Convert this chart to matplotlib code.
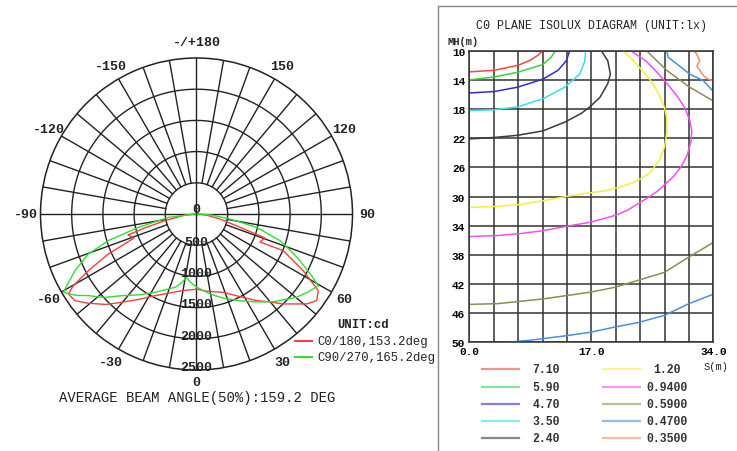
'''
Photometric report: polar intensity curve and C0 plane isolux diagram
'''

# Imports
import numpy as np
import matplotlib.pyplot as plt

plt.rcParams['font.family'] = ['Liberation Mono', 'DejaVu Sans Mono']

# Polar data (angle in deg, intensity in cd)
c0_angles = [-90, -84, -78, -75, -73, -69, -67, -65.6, -62.3, -59.8, -58, -54.5, -50.5, -45, -40.3,
             -34, -26.9, -19, -10.9, 0, 8, 18.9, 27, 34.8, 40, 44, 50.8, 54.2, 57.8, 62, 67.1, 66.2,
             70.7, 73, 78, 84, 90]
c0_cd = [30, 200, 516, 850, 1148, 1073, 1300, 1552, 1957, 2284, 2421, 2392, 2248, 2050, 1855,
         1650, 1468, 1340, 1252, 1205, 1250, 1327, 1480, 1691, 1840, 2004, 2280, 2375, 2307, 1938, 1510, 1112,
         1163, 729, 385, 150, 30]

c90_angles = [-90, -83, -77, -73.2, -69.7, -65, -61, -59.5, -56, -53, -48, -42.5, -35, -27.9, -16,
              -12, -9, -5, 0, 7.3, 9.6, 18, 26.6, 34, 41.2, 50.3, 55, 59.5, 62, 65.7, 69, 72.3, 77.5,
              81.5, 86, 90]
c90_cd = [20, 455, 957, 1477, 1849, 2148, 2380, 2476, 2330, 2173, 2000, 1775, 1580, 1420, 1220,
          1120, 1030, 1100, 1170, 1264, 1300, 1420, 1554, 1700, 1868, 2088, 2180, 2265, 2080, 1819, 1600, 1405, 988,
          543, 250, 20]

ring_values = [500, 1000, 1500, 2000, 2500]
angle_labels = [0, 30, 60, 90, 120, 150, -150, -120, -90, -60, -30]

# Isolux data (S in m, MH in m)
iso_710_x = [0, 3.4, 6.8, 8.5, 9.6, 10.2]
iso_710_y = [12.9, 12.7, 12.0, 11.3, 10.6, 10.0]
iso_590_x = [0, 3.5, 6.75, 10.25, 11.4, 12.0]
iso_590_y = [14.0, 13.6, 12.95, 11.9, 10.9, 10.0]
iso_470_x = [0, 3.5, 6.75, 10.25, 12.35, 13.5, 14.0]
iso_470_y = [15.8, 15.6, 15.0, 13.9, 12.7, 11.4, 10.0]
iso_350_x = [0, 3.5, 6.75, 10.25, 13.3, 15.4, 16.1, 16.2]
iso_350_y = [18.2, 18.1, 17.7, 16.6, 15.0, 13.2, 11.4, 10.0]
iso_240_x = [0, 3.5, 6.75, 10.25, 13.3, 15.6, 16.8, 18.2, 19.3, 19.65, 19.3, 18.4]
iso_240_y = [22.1, 21.9, 21.6, 21.0, 19.8, 18.6, 17.7, 16.4, 14.5, 13.2, 11.4, 10.0]
iso_120_x = [0, 4, 7, 10.2, 13.5, 16, 19.1, 21, 22.8, 24.2, 25.2, 26.5, 27.2, 27.55, 27.5, 27.2,
             26.3, 25.2, 23.8, 22.6, 21.4]
iso_120_y = [31.5, 31.35, 31.1, 30.6, 30.0, 29.6, 29.2, 28.7, 28.1, 27.4, 26.7, 25.0, 23.2, 21.0, 19.2, 17.8,
             15.7, 14.0, 12.4, 11.1, 10.0]
iso_094_x = [0, 4, 7, 10.2, 13.5, 17, 20.3, 22, 23.5, 25, 26.3, 27.3, 28.5, 29.6, 30.4, 30.9, 31.0,
             30.7, 30.0, 29.0, 27.8, 26.2, 24.6, 22.5]
iso_094_y = [35.5, 35.35, 35.1, 34.7, 34.1, 33.5, 32.6, 31.9, 31.0, 30.1, 29.2, 28.3, 27.2, 25.8, 24.2, 22.4, 21.0,
             19.5, 17.8, 16.3, 14.8, 13.0, 11.4, 10.0]
iso_059_top_x = [24.7, 27.5, 30.7, 34.0]
iso_059_top_y = [10.0, 12.7, 15.0, 16.9]
iso_059_bot_x = [0, 3.96, 10.25, 13.5, 17, 20.3, 23.5, 27.2, 30.6, 34]
iso_059_bot_y = [44.8, 44.7, 44.05, 43.6, 43.1, 42.45, 41.5, 40.4, 38.3, 36.3]
iso_047_top_x = [27.5, 27.7, 28.9, 30.7, 32.6, 34.0]
iso_047_top_y = [10.0, 10.9, 11.8, 13.2, 14.1, 15.6]
iso_047_bot_x = [5.36, 8.6, 13.5, 17, 20.3, 23.5, 27.2, 30.6, 34]
iso_047_bot_y = [50.0, 49.7, 49.1, 48.6, 47.9, 47.3, 46.3, 44.7, 43.4]
iso_035_x = [31.2, 31.7, 32.1, 31.7, 32.4, 32.8, 33.5, 34.0]
iso_035_y = [10.0, 10.45, 11.4, 12.1, 13.1, 13.6, 14.0, 14.1]

iso_levels = ['7.10', '5.90', '4.70', '3.50', '2.40', '1.20', '0.9400', '0.5900', '0.4700', '0.3500']
iso_colors = ['#f04848', '#3cd23c', '#3030c8', '#38e0e0', '#3a3a3a',
              '#f0f040', '#f050f0', '#8c8c5a', '#4a90e0', '#f0906a']
iso_lines = [[(iso_710_x, iso_710_y)], [(iso_590_x, iso_590_y)], [(iso_470_x, iso_470_y)],
             [(iso_350_x, iso_350_y)], [(iso_240_x, iso_240_y)], [(iso_120_x, iso_120_y)],
             [(iso_094_x, iso_094_y)], [(iso_059_top_x, iso_059_top_y), (iso_059_bot_x, iso_059_bot_y)],
             [(iso_047_top_x, iso_047_top_y), (iso_047_bot_x, iso_047_bot_y)], [(iso_035_x, iso_035_y)]]

s_ticks = [0, 3.4, 6.8, 10.2, 13.6, 17, 20.4, 23.8, 27.2, 30.6, 34]
s_labels = ['0.0', '', '', '', '', '17.0', '', '', '', '', '34.0']
mh_ticks = [10, 14, 18, 22, 26, 30, 34, 38, 42, 46, 50]

# Figure
fig = plt.figure(figsize=(7.37, 4.52), dpi=100)

# Polar plot
ax = fig.add_axes([0.05495, 0.1792, 0.42334, 0.69027], projection='polar')
ax.set_theta_zero_location('S')
ax.set_theta_direction(1)
ax.set_ylim(0, 2500)
ax.grid(False)
ax.set_xticks([])
ax.set_yticks([])
ax.spines['polar'].set_color('#222222')
ax.spines['polar'].set_linewidth(1.1)

full = np.linspace(0, 2 * np.pi, 361)
for r in ring_values[:-1]:
    ax.plot(full, [r] * len(full), color='#222222', lw=1.0)
for a in range(0, 360, 10):
    start = 0 if a % 90 == 0 else 500
    ax.plot([np.radians(a)] * 2, [start, 2500], color='#222222', lw=1.0)

ax.plot(np.radians(c0_angles), c0_cd, color='#f04040', lw=1.0)
ax.plot(np.radians(c90_angles), c90_cd, color='#30e030', lw=1.0)

for a in angle_labels:
    rr = 2690 if a == 0 else 2740
    ax.text(np.radians(a), rr, str(a), ha='center', va='center', fontsize=9.5,
            fontweight='bold', color='#222222', clip_on=False)
ax.text(np.pi, 2760, '-/+180', ha='center', va='center', fontsize=9.5,
        fontweight='bold', color='#222222', clip_on=False)
ax.text(np.pi, 80, '0', ha='center', va='center', fontsize=9.5, fontweight='bold', color='#222222')
for r in ring_values:
    ax.text(0, r - 50, str(r), ha='center', va='center', fontsize=9.5, fontweight='bold', color='#222222')

# Isolux diagram
ax2 = fig.add_axes([0.6368, 0.2405, 0.3311, 0.6451])
for segs, c in zip(iso_lines, iso_colors):
    for xs, ys in segs:
        ax2.plot(xs, ys, color=c, lw=1.1)
ax2.set_xlim(0, 34)
ax2.set_ylim(50, 10)
ax2.set_xticks(s_ticks)
ax2.set_xticklabels(s_labels)
ax2.set_yticks(mh_ticks)
ax2.set_yticklabels([str(v) for v in mh_ticks])
ax2.grid(True, color='#333333', lw=1.1)
ax2.tick_params(length=0, labelsize=8, pad=3)
for lab in ax2.get_xticklabels() + ax2.get_yticklabels():
    lab.set_fontweight('bold')
for sp in ax2.spines.values():
    sp.set_color('#333333')
    sp.set_linewidth(1.1)

# Overlay for text, legends and frame
ov = fig.add_axes([0, 0, 1, 1])
ov.set_xlim(0, 737)
ov.set_ylim(452, 0)
ov.axis('off')
ov.patch.set_alpha(0)

ov.text(197, 398, 'AVERAGE BEAM ANGLE(50%):159.2 DEG', ha='center', va='center', fontsize=10, color='#222222')
ov.text(337, 325, 'UNIT:cd', ha='left', va='center', fontsize=8.8, fontweight='bold', color='#222222')
ov.plot([295, 312], [342, 342], color='#f04040', lw=1.5)
ov.text(317, 342, 'C0/180,153.2deg', ha='left', va='center', fontsize=8.8, color='#222222')
ov.plot([295, 312], [358, 358], color='#30e030', lw=1.5)
ov.text(317, 358, 'C90/270,165.2deg', ha='left', va='center', fontsize=8.8, color='#222222')

ov.plot([438, 438, 737], [452, 7, 7], color='#888888', lw=1.0)
ov.text(592, 26, 'C0 PLANE ISOLUX DIAGRAM (UNIT:lx)', ha='center', va='center', fontsize=8.4, color='#222222')
ov.text(463, 42, 'MH(m)', ha='center', va='center', fontsize=7.5, fontweight='bold', color='#222222')
ov.text(716, 367, 'S(m)', ha='center', va='center', fontsize=7.5, color='#222222')

legend_rows = [370, 388, 405, 422, 439]
for i, (lev, c) in enumerate(zip(iso_levels, iso_colors)):
    col = i // 5
    y = legend_rows[i % 5]
    x0 = 482 if col == 0 else 603
    ov.plot([x0, x0 + 37], [y, y], color=c, lw=1.6, alpha=0.6)
    ov.text(x0 + 64, y, lev, ha='center', va='center', fontsize=8.3, fontweight='bold', color='#333333')

plt.savefig('out.png', dpi=100)
